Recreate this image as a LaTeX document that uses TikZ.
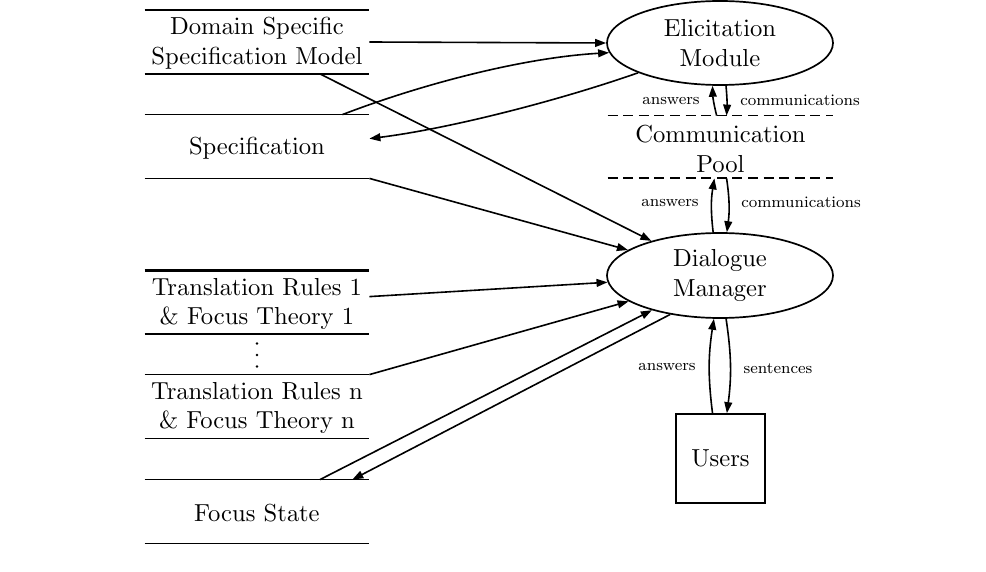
\documentclass[tikz,border=0pt]{standalone}
\usetikzlibrary{arrows.meta,shapes.geometric,calc}
\font\nodefont=cmr10 at 12.3pt
\begin{document}
\begin{tikzpicture}[x=0.5pt,y=-0.5pt,
  lbl/.style={font=\fontsize{12.3}{14.8}\selectfont\nodefont, align=center, inner sep=0pt},
  small/.style={font=\fontsize{8}{10}\selectfont, inner sep=0pt, anchor=base},
  store/.style={inner sep=0pt, minimum width=112pt, minimum height=31.5pt},
  storeline/.style={line width=0.85pt},
  proc/.style={lbl, ellipse, draw, line width=0.85pt, minimum width=113pt, minimum height=42.5pt},
  flow/.style={line width=0.8pt, -{Triangle[length=5.5pt,width=3.9pt]}},
  poolline/.style={line width=0.9pt, dash pattern=on 5pt off 2.8pt},
  dot/.style={fill, circle, inner sep=0pt, minimum size=1.3pt},
]
\useasboundingbox (0,0) rectangle (986,572);

% data stores on the left: an outline only above and below
\node[store] (dssm)  at (257,42)    {};
\node[store] (spec)  at (257,146.5) {};
\node[store] (tr1)   at (257,302.5) {};
\node[store] (trn)   at (257,406.5) {};
\node[store] (focus) at (257,511.5) {};
\foreach \s in {dssm,spec,trn,focus} {
  \draw[storeline] (\s.north west) -- (\s.north east);
  \draw[storeline] (\s.south west) -- (\s.south east);
}
\draw[line width=1.1pt] (tr1.north west) -- (tr1.north east);
\draw[line width=1.1pt] (tr1.south west) -- (tr1.south east);

\node[lbl] (dssmtext)  at (257,43.5)  {Domain Specific\\Specification Model};
\node[lbl] (spectext)  at (257,148)   {Specification};
\node[lbl] (tr1text)   at (257,304)   {Translation Rules 1\\\& Focus Theory 1};
\node[lbl] (trntext)   at (257,408)   {Translation Rules n\\\& Focus Theory n};
\node[lbl] (focustext) at (257,513)   {Focus State};

% vertical ellipsis between the rule stores
\node[dot] (dots1) at (257,343.5) {};
\node[dot] (dots2) at (257,355) {};
\node[dot] (dots3) at (257,366.5) {};

% processes
\node[proc, minimum height=42pt] (elic) at (720,43) {Elicitation\\Module};
\node[proc] (dial) at (720,275.5) {Dialogue\\Manager};

% communication pool between dashed rules
\node[store, minimum width=112.5pt, minimum height=31pt] (pool) at (720.5,147) {};
\draw[poolline] (pool.north west) -- (pool.north east);
\draw[poolline] (pool.south west) -- (pool.south east);
\node[lbl] (pooltext) at (720.5,149) {Communication\\Pool};

\node[lbl, draw, line width=0.85pt, minimum size=44.5pt] (users) at (720.5,458.5) {Users};

% flows between stores and processes
\draw[flow] (dssm.east) -- (elic.west);
\draw[flow] ($(spec.north west)!0.88!(spec.north east)$) .. controls +(78,-30) and +(-87,5) .. (elic.185);
\draw[flow] (elic.200) .. controls +(-80,28) and +(80,-10) .. (spec.4);
\draw[flow] ($(dssm.south west)!0.78!(dssm.south east)$) -- (dial);
\draw[flow] (spec.south east) -- (dial);
\draw[flow] (tr1.3) -- (dial);
\draw[flow] (trn.north east) -- (dial);
\draw[flow] ($(focus.north west)!0.78!(focus.north east)$) -- (dial);
\draw[flow] (dial.218) -- ($(focus.north west)!0.924!(focus.north east)$);

% flows through the communication pool and to the users
\draw[flow] (pool.97) to[bend left=6] (elic.260);
\draw[flow] (elic.278) to[bend left=4] (pool.79);
\draw[flow] (dial.99) to[bend left=8] (pool.259);
\draw[flow] (pool.281) to[bend left=8] (dial.81);
\draw[flow] (users.100) to[bend left=8] (dial.262);
\draw[flow] (dial.278) to[bend left=8] (users.82);

% flow labels
\node[small] (la1) at (671,105) {answers};
\node[small] (lc1) at (800,106) {communications};
\node[small] (la2) at (670,207) {answers};
\node[small] (lc2) at (801,208) {communications};
\node[small] (la3) at (667,371) {answers};
\node[small] (ls3) at (778,373) {sentences};
\end{tikzpicture}
\end{document}
